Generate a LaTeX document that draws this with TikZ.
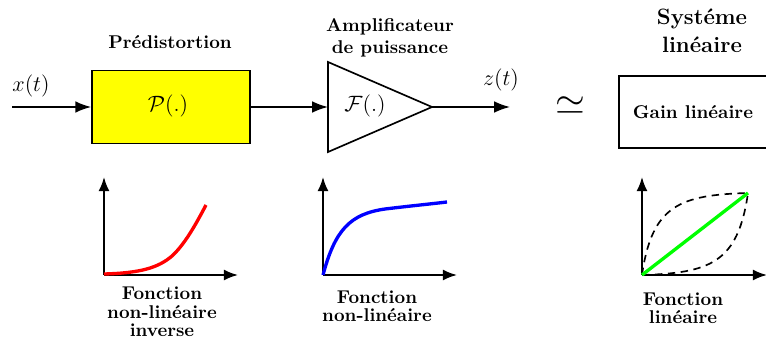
\documentclass[tikz,border=0pt]{standalone}
\usepackage{amsmath,amssymb}
\usepackage{xcolor}
\usepackage{tikz}
\usetikzlibrary{arrows.meta,positioning}
\definecolor{pdYellow}{HTML}{FFFF00}
\definecolor{pdRed}{HTML}{FF0000}
\definecolor{pdBlue}{HTML}{0000FF}
\definecolor{pdGreen}{HTML}{00FF00}
\tikzset{
  pd diagram/.style={x=0.019cm, y=-0.019cm, line join=miter},
  pd block/.style={draw=black, line width=0.9pt, inner sep=0pt},
  pd title/.style={font=\bfseries, align=center},
  pd signal/.style={-{Latex[length=3mm,width=2.2mm]}, line width=0.9pt},
  pd axis/.style={-{Latex[length=2.7mm,width=2.1mm]}, line width=1pt},
  pd curve/.style={line width=1.8pt},
  pd guess/.style={line width=0.9pt, dash pattern=on 4pt off 3pt},
  pd math/.style={font=\large}
}

\begin{document}
\begin{tikzpicture}[pd diagram]
\useasboundingbox (0,0) rectangle (766,338);
% chain
\coordinate (xin) at (12,107);
\node[pd block, fill=pdYellow, minimum width=3cm, minimum height=1.39cm] (pred) at (171,107) {};
\node[pd math] (predf) at (168,106) {$\mathcal{P}(.)$};
\draw[pd block] (328,62) -- (432,107) -- (328,152) -- cycle;
\coordinate (ampin) at (328,107);
\coordinate (ampout) at (432,107);
\coordinate (zend) at (510,107);
\node[pd math] (ampf) at (365,106) {$\mathcal{F}(.)$};
\draw[pd signal] (xin) -- (pred);
\draw[pd signal] (pred) -- (ampin);
\draw[pd signal] (ampout) -- (zend);
\node[pd math] (xlab) at (31,86) {$x(t)$};
\node[pd math] (zlab) at (501,80) {$z(t)$};
\node[font=\huge] (approx) at (570,106) {$\simeq$};
\node[pd block, minimum width=2.83cm, minimum height=1.37cm] (gain) at (693.5,112) {};
\node[pd title] (gainlab) at (693,112) {Gain linéaire};
% titles
\node[pd title] (predtitle) at (170,42) {Prédistortion};
\node[pd title] (amptitle) at (390,38) {Amplificateur\\de puissance};
\node[pd title, font=\bfseries\large] (systitle) at (702,31) {Systéme\\[1pt]linéaire};
% transfer curves
\foreach \ox/\xe in {104/238,323/457,642/767}{
  \draw[pd axis] (\ox,275) -- (\xe,275);
  \draw[pd axis] (\ox,275) -- (\ox,177);
}
\draw[pd curve, pdRed] (104,274) .. controls (140,273) and (158,268) .. (172,256)
  .. controls (185,244) and (196,224) .. (206,205);
\draw[pd curve, pdBlue] (323,275) .. controls (335,230) and (350,214) .. (385,209)
  .. controls (410,206) and (430,204) .. (447,202);
\draw[pd guess] (642,275) .. controls (652,205) and (680,195) .. (748,193);
\draw[pd guess] (642,275) .. controls (710,273) and (738,263) .. (748,193);
\draw[pd curve, pdGreen] (642,275) -- (748,193);
\node[pd title] (invlab) at (162,312) {Fonction\\[-2pt]non-linéaire\\[-2pt]inverse};
\node[pd title] (nllab) at (377,306) {Fonction\\[-2pt]non-linéaire};
\node[pd title] (linlab) at (683,308) {Fonction\\[-2pt]linéaire};
\end{tikzpicture}
\end{document}
